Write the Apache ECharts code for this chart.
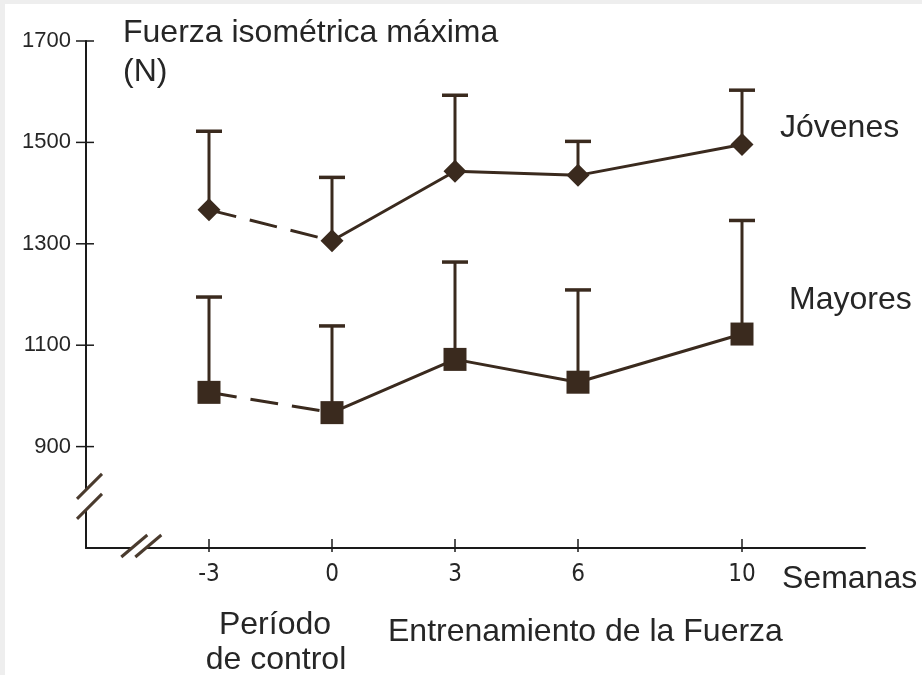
<!DOCTYPE html>
<html><head><meta charset="utf-8">
<script src="https://cdn.jsdelivr.net/npm/echarts@6/dist/echarts.min.js"></script>
<style>html,body{margin:0;padding:0;background:#fff}#c{width:922px;height:675px}</style>
</head><body><div id="c"></div>
<script>
// ---- data ----
const weeks = [-3, 0, 3, 6, 10];
const jovenesMean = [1367, 1306, 1443, 1435, 1496];
const jovenesUpper = [1522, 1431, 1593, 1502, 1603];
const mayoresMean = [1007, 967, 1072, 1027, 1122];
const mayoresUpper = [1195, 1138, 1264, 1209, 1346];
const yTicks = [900, 1100, 1300, 1500, 1700];
const xTicks = [-3, 0, 3, 6, 10];
const xMin = -6, xMax = 13, yMin = 700, yMax = 1700;
const yBreakValue = 795;
const xBreakValue = -4.7;

const C = '#3a2a1e';
const AX = '#1a1a1a';
const TXT = '#262626';
const FONT = '"Liberation Sans", Arial, sans-serif';
const NARROW = '"Liberation Sans Narrow", "DejaVu Sans Condensed", "Liberation Sans", sans-serif';

const chart = echarts.init(document.getElementById('c'), null, {renderer: 'canvas'});

function pairs(xs, ys) { return xs.map((x, i) => [x, ys[i]]); }
function errData(mean, upper) { return weeks.map((w, i) => [w, mean[i], upper[i]]); }

function errRender(params, api) {
  const p0 = api.coord([api.value(0), api.value(1)]);
  const p1 = api.coord([api.value(0), api.value(2)]);
  return {
    type: 'group',
    children: [
      {type: 'line', shape: {x1: p0[0], y1: p0[1], x2: p1[0], y2: p1[1]}, style: {stroke: C, lineWidth: 3}},
      {type: 'line', shape: {x1: p1[0] - 13, y1: p1[1], x2: p1[0] + 13, y2: p1[1]}, style: {stroke: C, lineWidth: 3.5}}
    ]
  };
}
// crossing tick marks drawn from the tick value arrays
function yTickRender(params, api) {
  const p = api.coord([api.value(0), api.value(1)]);
  return {type: 'line', shape: {x1: p[0] - 10, y1: p[1], x2: p[0] + 8, y2: p[1]}, style: {stroke: AX, lineWidth: 1.5}};
}
function xTickRender(params, api) {
  const p = api.coord([api.value(0), api.value(1)]);
  return {type: 'line', shape: {x1: p[0], y1: p[1] - 9, x2: p[0], y2: p[1] + 4}, style: {stroke: AX, lineWidth: 1.5}};
}

function groupSeries(mean, upper, symbol, size) {
  return [
    {type: 'custom', renderItem: errRender, data: errData(mean, upper), encode: {x: 0, y: [1, 2]}, z: 1, silent: true},
    {type: 'line', data: pairs(weeks.slice(0, 2), mean.slice(0, 2)), symbol: 'none',
      lineStyle: {color: C, width: 3, type: [28, 14]}, z: 2, silent: true, animation: false},
    {type: 'line', data: pairs(weeks.slice(1), mean.slice(1)), symbol: 'none',
      lineStyle: {color: C, width: 3}, z: 2, silent: true, animation: false},
    {type: 'scatter', data: pairs(weeks, mean), symbol: symbol, symbolSize: size,
      itemStyle: {color: C, opacity: 1}, z: 3, silent: true, animation: false}
  ];
}

const option = {
  backgroundColor: '#ffffff',
  animation: false,
  grid: {left: 86, right: 57, top: 41, bottom: 127, containLabel: false},
  xAxis: {type: 'value', min: xMin, max: xMax, splitLine: {show: false},
    axisLine: {show: true, onZero: false, lineStyle: {color: AX, width: 2}},
    axisTick: {show: false},
    axisLabel: {show: true, customValues: xTicks, margin: 15, color: TXT, fontSize: 24, fontFamily: NARROW,
      formatter: v => String(v)}},
  yAxis: {type: 'value', min: yMin, max: yMax, splitLine: {show: false},
    axisLine: {show: true, onZero: false, lineStyle: {color: AX, width: 2}},
    axisTick: {show: false},
    axisLabel: {show: true, customValues: yTicks, margin: 15, color: TXT, fontSize: 22, fontFamily: FONT,
      padding: [0, 0, 5, 0], formatter: v => String(v)}},
  series: [].concat(
    [
      {type: 'custom', renderItem: yTickRender, data: yTicks.map(v => [xMin, v]), clip: false, z: 4, silent: true},
      {type: 'custom', renderItem: xTickRender, data: xTicks.map(v => [v, yMin]), clip: false, z: 4, silent: true}
    ],
    groupSeries(jovenesMean, jovenesUpper, 'diamond', [23, 23]),
    groupSeries(mayoresMean, mayoresUpper, 'rect', [23, 23])
  )
};
chart.setOption(option);

// decorations (texts, axis break marks) positioned from the axes
const ax = chart.convertToPixel({xAxisIndex: 0}, xMin);
const ay = chart.convertToPixel({yAxisIndex: 0}, yMin);
const yb = chart.convertToPixel({yAxisIndex: 0}, yBreakValue);
const xb = chart.convertToPixel({xAxisIndex: 0}, xBreakValue);

function txt(x, y, s, align) {
  return {type: 'text', x: x, y: y, z: 20,
    style: {text: s, fill: TXT, font: '32px ' + FONT, textAlign: align || 'left', textVerticalAlign: 'middle'}};
}
const BR = '#4a3b2e';
const graphics = [
  {type: 'rect', shape: {x: 0, y: 0, width: 5, height: 675}, style: {fill: '#eeeeee'}, z: 30},
  {type: 'rect', shape: {x: 0, y: 0, width: 922, height: 4}, style: {fill: '#eeeeee'}, z: 30},
  // y axis break
  {type: 'rect', shape: {x: ax - 3, y: yb - 10, width: 6, height: 20}, style: {fill: '#fff'}, z: 25},
  {type: 'line', shape: {x1: ax - 9, y1: yb - 10 + 9, x2: ax + 16, y2: yb - 10 - 16}, style: {stroke: BR, lineWidth: 3}, z: 26},
  {type: 'line', shape: {x1: ax - 9, y1: yb + 10 + 9, x2: ax + 16, y2: yb + 10 - 16}, style: {stroke: BR, lineWidth: 3}, z: 26},
  // x axis break
  {type: 'rect', shape: {x: xb - 7, y: ay - 3, width: 14, height: 6}, style: {fill: '#fff'}, z: 25},
  {type: 'line', shape: {x1: xb - 7 - 11, y1: ay + 9, x2: xb - 7 + 15, y2: ay - 13}, style: {stroke: BR, lineWidth: 3}, z: 26},
  {type: 'line', shape: {x1: xb + 7 - 11, y1: ay + 9, x2: xb + 7 + 15, y2: ay - 13}, style: {stroke: BR, lineWidth: 3}, z: 26},
  txt(123, 33, 'Fuerza isométrica máxima'),
  txt(123, 72, '(N)'),
  txt(780, 128, 'Jóvenes'),
  txt(789, 300, 'Mayores'),
  txt(782, 579, 'Semanas'),
  txt(275, 625, 'Período', 'center'),
  txt(276, 660, 'de control', 'center'),
  txt(388, 632, 'Entrenamiento de la Fuerza')
];
chart.setOption({graphic: graphics});
</script>
</body></html>
